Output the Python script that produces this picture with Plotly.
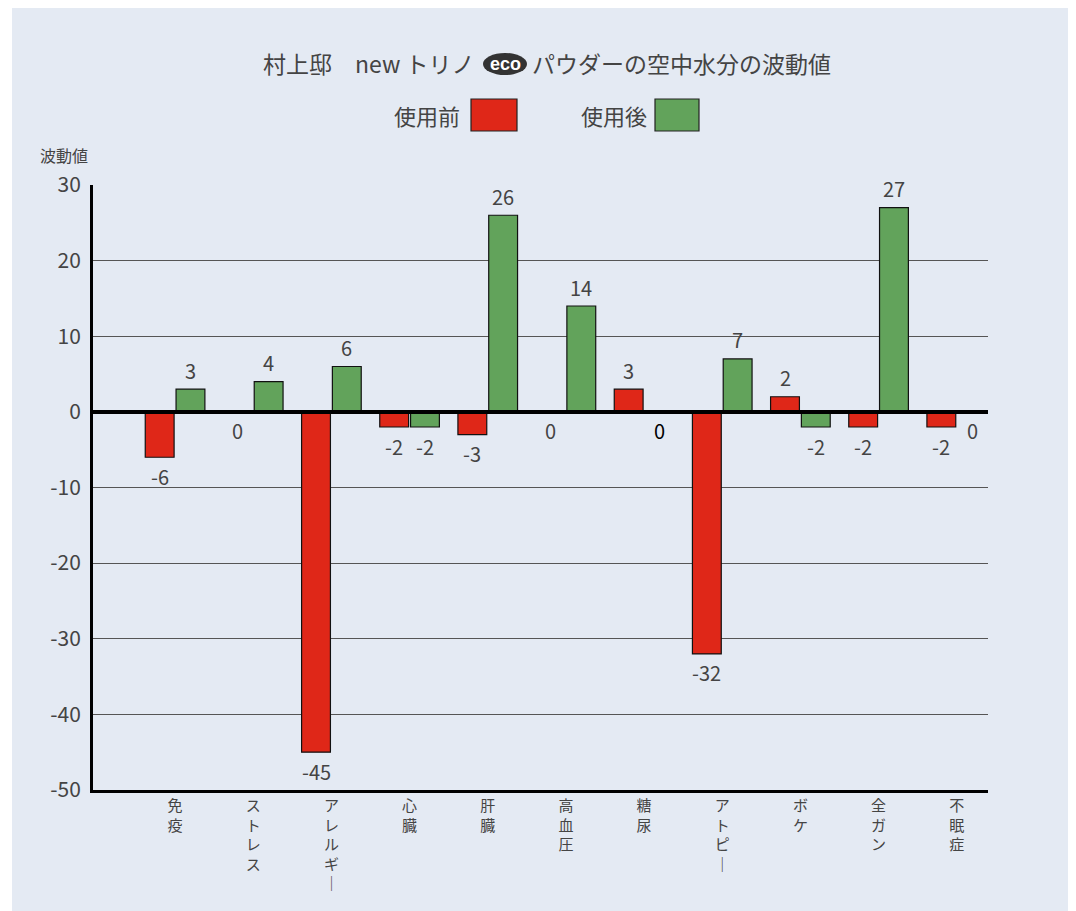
import plotly.graph_objects as go

categories = ["免疫", "ストレス", "アレルギー", "心臓", "肝臓", "高血圧", "糖尿", "アトピー", "ボケ", "全ガン", "不眠症"]
before = [-6, 0, -45, -2, -3, 0, 3, -32, 2, -2, -2]
after = [3, 4, 6, -2, 26, 14, 0, 7, -2, 27, 0]
y_ticks = [30, 20, 10, 0, -10, -20, -30, -40, -50]

BG = "#e4eaf3"
RED = "#df2718"
GREEN = "#62a35b"
TXT = "#444444"
FONT = "Noto Sans CJK JP, Noto Sans, sans-serif"

W, H = 1068, 903
ML, MR, MT, MB = 85, 88, 177, 121
PW, PH = W - ML - MR, H - MT - MB
OFF = 8  # body margin of the page


def fx(px):
    return (px - OFF - ML) / PW


def fy(py):
    return (H - MB - (py - OFF)) / PH


def vertical(s):
    return "<br>".join("｜" if c == "ー" else c for c in s)


idx = list(range(len(categories)))
bw = 0.369
gap = 0.025
shift = (bw + gap) / 2

fig = go.Figure()
fig.add_trace(go.Bar(x=idx, y=before, width=bw, offset=-bw - gap / 2, name="使用前",
                     marker=dict(color=RED, line=dict(color="#111", width=1.2)),
                     showlegend=False, hoverinfo="y"))
fig.add_trace(go.Bar(x=idx, y=after, width=bw, offset=gap / 2, name="使用後",
                     marker=dict(color=GREEN, line=dict(color="#111", width=1.2)),
                     showlegend=False, hoverinfo="y"))

annotations = []
for series, sgn in ((before, -1), (after, 1)):
    for i, v in zip(idx, series):
        col = TXT
        if sgn == 1 and v == 0 and categories[i] == "糖尿":
            col = "#000000"
        annotations.append(dict(x=i + sgn * shift, y=v, xref="x", yref="y", text=str(v),
                                showarrow=False, yanchor="middle", xanchor="center",
                                yshift=19 if v > 0 else -19,
                                font=dict(size=20, color=col, family=FONT)))

# title
annotations.append(dict(x=fx(477), y=fy(63), xref="paper", yref="paper", text="村上邸　new トリノ",
                        showarrow=False, xanchor="right", yanchor="middle",
                        font=dict(size=23, color=TXT, family=FONT)))
annotations.append(dict(x=fx(505), y=fy(64), xref="paper", yref="paper", text="<b>eco</b>",
                        showarrow=False, xanchor="center", yanchor="middle",
                        font=dict(size=18, color="white", family="Liberation Sans, Arial, sans-serif")))
annotations.append(dict(x=fx(530), y=fy(63), xref="paper", yref="paper", text="パウダーの空中水分の波動値",
                        showarrow=False, xanchor="left", yanchor="middle",
                        font=dict(size=23, color=TXT, family=FONT)))
# legend
annotations.append(dict(x=fx(462), y=fy(115), xref="paper", yref="paper", text="使用前",
                        showarrow=False, xanchor="right", yanchor="middle",
                        font=dict(size=22, color=TXT, family=FONT)))
annotations.append(dict(x=fx(649), y=fy(115), xref="paper", yref="paper", text="使用後",
                        showarrow=False, xanchor="right", yanchor="middle",
                        font=dict(size=22, color=TXT, family=FONT)))
# y axis title
annotations.append(dict(x=fx(38), y=fy(155), xref="paper", yref="paper", text="波動値",
                        showarrow=False, xanchor="left", yanchor="middle",
                        font=dict(size=16, color=TXT, family=FONT)))

shapes = [
    # white strip at left edge of page
    dict(type="rect", xref="paper", yref="paper", x0=fx(0), x1=fx(12), y0=fy(911), y1=fy(0),
         fillcolor="white", line=dict(width=0), layer="below"),
    # eco badge
    dict(type="circle", xref="paper", yref="paper", x0=fx(483), x1=fx(527), y0=fy(75), y1=fy(53),
         fillcolor="#333333", line=dict(width=0)),
    # legend boxes
    dict(type="rect", xref="paper", yref="paper", x0=fx(471), x1=fx(517), y0=fy(131), y1=fy(99),
         fillcolor=RED, line=dict(color="#222", width=1.2)),
    dict(type="rect", xref="paper", yref="paper", x0=fx(655), x1=fx(699), y0=fy(131), y1=fy(99),
         fillcolor=GREEN, line=dict(color="#222", width=1.2)),
    # zero line on top of bars
    dict(type="line", xref="paper", yref="y", x0=0, x1=1, y0=0, y1=0,
         line=dict(color="black", width=4), layer="above"),
]

fig.update_layout(
    width=W, height=H,
    margin=dict(l=ML, r=MR, t=MT, b=MB, pad=0),
    paper_bgcolor=BG, plot_bgcolor=BG,
    barmode="overlay",
    annotations=annotations,
    shapes=shapes,
    font=dict(family=FONT, color=TXT),
    xaxis=dict(range=[-1.05, 10.40], tickmode="array", tickvals=idx,
               ticktext=[vertical(c) for c in categories],
               tickfont=dict(size=15, color=TXT, family=FONT),
               showgrid=False, zeroline=False, showline=True, linecolor="black", linewidth=3,
               ticks="", fixedrange=True),
    yaxis=dict(range=[-50, 30], tickmode="array", tickvals=y_ticks,
               ticktext=[str(t) for t in y_ticks],
               tickfont=dict(size=21, color=TXT, family=FONT),
               showgrid=True, gridcolor="#555555", gridwidth=1,
               zeroline=False, showline=True, linecolor="black", linewidth=3,
               ticks="", ticklabelstandoff=5, fixedrange=True),
)

fig.write_html("out.html", config={"displayModeBar": False})
